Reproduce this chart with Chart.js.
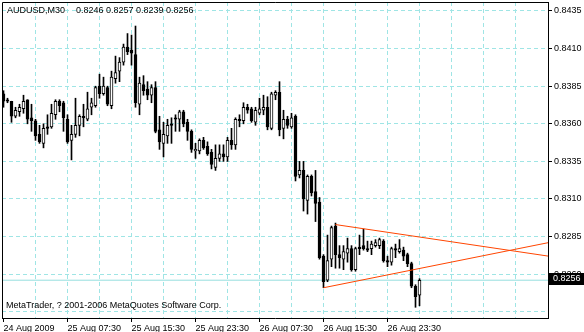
<!DOCTYPE html>
<html>
<head>
<meta charset="utf-8">
<script src="https://cdn.jsdelivr.net/npm/chart.js@4.4.1/dist/chart.umd.min.js"></script>
<style>
  html, body { margin: 0; padding: 0; background: #fff; }
  canvas { display: block; }
</style>
</head>
<body>
<canvas id="chart" width="584" height="332"></canvas>
<script>
// AUDUSD M30 bars, oldest first (bar index = position in the arrays)
const symbol = 'AUDUSD,M30';
const opens = [
	0.8380, 0.8376, 0.8375, 0.8365, 0.8368, 0.8370, 0.8376, 0.8364, 0.8362, 0.8353,
	0.8347, 0.8358, 0.8358, 0.8366, 0.8375, 0.8374, 0.8363, 0.8349, 0.8353, 0.8359,
	0.8365, 0.8363, 0.8371, 0.8372, 0.8385, 0.8380, 0.8384, 0.8372, 0.8390, 0.8395,
	0.8401, 0.8411, 0.8409, 0.8406, 0.8373, 0.8386, 0.8383, 0.8379, 0.8384, 0.8356,
	0.8347, 0.8352, 0.8360, 0.8364, 0.8363, 0.8368, 0.8361, 0.8355, 0.8342, 0.8342,
	0.8349, 0.8345, 0.8341, 0.8331, 0.8337, 0.8340, 0.8338, 0.8349, 0.8346, 0.8363,
	0.8362, 0.8371, 0.8370, 0.8361, 0.8367, 0.8369, 0.8371, 0.8357, 0.8379, 0.8381,
	0.8357, 0.8363, 0.8358, 0.8365, 0.8326, 0.8329, 0.8309, 0.8325, 0.8315, 0.8308,
	0.8272, 0.8256, 0.8270, 0.8292, 0.8273, 0.8270, 0.8274, 0.8277, 0.8263, 0.8278,
	0.8279, 0.8277, 0.8277, 0.8279, 0.8279, 0.8282, 0.8269, 0.8268, 0.8277, 0.8275,
	0.8276, 0.8273, 0.8267, 0.8252, 0.8246
];
const highs = [
	0.8382, 0.8377, 0.8375, 0.8371, 0.8373, 0.8379, 0.8376, 0.8373, 0.8363, 0.8359,
	0.8360, 0.8366, 0.8373, 0.8376, 0.8376, 0.8375, 0.8366, 0.8359, 0.8377, 0.8366,
	0.8373, 0.8381, 0.8377, 0.8385, 0.8393, 0.8391, 0.8385, 0.8395, 0.8405, 0.8404,
	0.8413, 0.8420, 0.8419, 0.8425, 0.8391, 0.8392, 0.8388, 0.8386, 0.8388, 0.8365,
	0.8361, 0.8363, 0.8364, 0.8366, 0.8369, 0.8369, 0.8363, 0.8356, 0.8347, 0.8350,
	0.8351, 0.8348, 0.8343, 0.8346, 0.8346, 0.8346, 0.8351, 0.8357, 0.8364, 0.8366,
	0.8374, 0.8373, 0.8371, 0.8371, 0.8377, 0.8379, 0.8378, 0.8381, 0.8382, 0.8388,
	0.8369, 0.8365, 0.8367, 0.8366, 0.8335, 0.8335, 0.8326, 0.8326, 0.8329, 0.8311,
	0.8273, 0.8286, 0.8292, 0.8294, 0.8279, 0.8279, 0.8284, 0.8279, 0.8278, 0.8286,
	0.8290, 0.8282, 0.8282, 0.8283, 0.8284, 0.8283, 0.8272, 0.8278, 0.8280, 0.8283,
	0.8278, 0.8274, 0.8268, 0.8253, 0.8257
];
const lows = [
	0.8371, 0.8374, 0.8361, 0.8364, 0.8365, 0.8367, 0.8360, 0.8355, 0.8349, 0.8347,
	0.8344, 0.8353, 0.8357, 0.8363, 0.8368, 0.8355, 0.8347, 0.8336, 0.8351, 0.8352,
	0.8358, 0.8362, 0.8366, 0.8371, 0.8377, 0.8379, 0.8372, 0.8370, 0.8387, 0.8388,
	0.8399, 0.8406, 0.8399, 0.8371, 0.8366, 0.8379, 0.8376, 0.8374, 0.8354, 0.8343,
	0.8338, 0.8347, 0.8347, 0.8355, 0.8355, 0.8358, 0.8349, 0.8341, 0.8337, 0.8340,
	0.8343, 0.8339, 0.8330, 0.8329, 0.8335, 0.8335, 0.8335, 0.8343, 0.8343, 0.8358,
	0.8360, 0.8367, 0.8361, 0.8359, 0.8366, 0.8366, 0.8356, 0.8356, 0.8376, 0.8352,
	0.8350, 0.8357, 0.8357, 0.8322, 0.8324, 0.8302, 0.8300, 0.8312, 0.8295, 0.8270,
	0.8251, 0.8255, 0.8265, 0.8264, 0.8264, 0.8263, 0.8268, 0.8262, 0.8262, 0.8273,
	0.8276, 0.8275, 0.8273, 0.8278, 0.8277, 0.8268, 0.8265, 0.8266, 0.8271, 0.8274,
	0.8269, 0.8265, 0.8251, 0.8238, 0.8239
];
const closes = [
	0.8375, 0.8375, 0.8365, 0.8369, 0.8371, 0.8375, 0.8363, 0.8362, 0.8352, 0.8348,
	0.8357, 0.8357, 0.8367, 0.8375, 0.8372, 0.8364, 0.8348, 0.8353, 0.8359, 0.8365,
	0.8364, 0.8370, 0.8374, 0.8384, 0.8380, 0.8385, 0.8373, 0.8391, 0.8394, 0.8401,
	0.8411, 0.8408, 0.8407, 0.8374, 0.8387, 0.8382, 0.8379, 0.8384, 0.8355, 0.8348,
	0.8353, 0.8359, 0.8359, 0.8363, 0.8368, 0.8360, 0.8355, 0.8343, 0.8343, 0.8349,
	0.8344, 0.8340, 0.8333, 0.8337, 0.8340, 0.8338, 0.8349, 0.8346, 0.8363, 0.8362,
	0.8371, 0.8369, 0.8362, 0.8369, 0.8370, 0.8371, 0.8358, 0.8380, 0.8381, 0.8356,
	0.8363, 0.8359, 0.8364, 0.8325, 0.8329, 0.8310, 0.8325, 0.8314, 0.8307, 0.8271,
	0.8255, 0.8269, 0.8291, 0.8273, 0.8271, 0.8275, 0.8277, 0.8263, 0.8277, 0.8277,
	0.8277, 0.8276, 0.8280, 0.8281, 0.8283, 0.8269, 0.8268, 0.8277, 0.8276, 0.8277,
	0.8272, 0.8267, 0.8252, 0.8245, 0.8256
];

const xTickBars = [0, 16, 32, 48, 64, 80, 96];
const xTickLabels = ['24 Aug 2009', '25 Aug 07:30', '25 Aug 15:30', '25 Aug 23:30', '26 Aug 07:30', '26 Aug 15:30', '26 Aug 23:30'];
const gridBars = [8, 16, 24, 32, 40, 48, 56, 64, 72, 80, 88, 96, 104, 112, 120, 128];
const yGrid = [0.8235, 0.8260, 0.8285, 0.8310, 0.8335, 0.8360, 0.8385, 0.8410, 0.8435];
const yLabels = [0.8260, 0.8285, 0.8310, 0.8335, 0.8360, 0.8385, 0.8410, 0.8435];
const bid = 0.8256;

// trend lines (bar index, price)
const upperTrend = [{x: 83, y: 0.8293}, {x: 136.25, y: 0.8272}];
const lowerTrend = [{x: 80, y: 0.8251}, {x: 136.25, y: 0.8281}];

const xMin = -0.375, xMax = 136.125;
const yMin = 0.823088, yMax = 0.844098;

const gridColor = '#9fe5e5';
const fontFamily = '"Liberation Sans", Arial, sans-serif';

const wicks = opens.map((o, i) => ({x: i, y: [lows[i], highs[i]]}));
const bodies = opens.map((o, i) => ({x: i, y: [Math.min(o, closes[i]), Math.max(o, closes[i])]}));

// frame, header texts and the bid price box
const overlay = {
	id: 'overlay',
	afterDraw(chart) {
		const {ctx, chartArea: a, scales} = chart;
		const n = opens.length - 1;
		ctx.save();
		ctx.strokeStyle = '#000';
		ctx.lineWidth = 1;
		ctx.beginPath();
		ctx.moveTo(a.left + 0.5, a.bottom);
		ctx.lineTo(a.left + 0.5, a.top + 0.5);
		ctx.lineTo(a.right, a.top + 0.5);
		ctx.stroke();

		ctx.font = '9px ' + fontFamily;
		ctx.fillStyle = '#000';
		ctx.textBaseline = 'middle';
		ctx.fillText(symbol, 7, 10.5);
		ctx.fillText([opens[n], highs[n], lows[n], closes[n]].map(v => v.toFixed(4)).join(' '), 76, 10.5);
		ctx.fillText('MetaTrader, ? 2001-2006 MetaQuotes Software Corp.', 6, 306);

		const y = scales.y.getPixelForValue(bid);
		ctx.fillRect(a.right + 1, Math.round(y) - 7, 36, 12);
		ctx.fillStyle = '#fff';
		ctx.fillText(bid.toFixed(4), a.right + 5, Math.round(y) - 1);
		ctx.restore();
	}
};

new Chart(document.getElementById('chart'), {
	type: 'bar',
	data: {
		datasets: [{
			type: 'line',
			data: [{x: xMin, y: bid}, {x: xMax, y: bid}],
			borderColor: '#96dede',
			borderWidth: 1,
			pointRadius: 0,
			order: 5
		}, {
			data: wicks,
			backgroundColor: '#000',
			borderWidth: 0,
			grouped: false,
			barPercentage: 1,
			categoryPercentage: 1,
			maxBarThickness: 1,
			order: 3
		}, {
			data: bodies,
			backgroundColor: ctx => closes[ctx.dataIndex] >= opens[ctx.dataIndex] ? '#fff' : '#000',
			borderColor: '#000',
			borderWidth: 1,
			borderSkipped: false,
			grouped: false,
			barPercentage: 1,
			categoryPercentage: 1,
			maxBarThickness: 3,
			order: 2
		}, {
			type: 'line',
			data: upperTrend,
			borderColor: '#ff4500',
			borderWidth: 1,
			pointRadius: 0,
			order: 1
		}, {
			type: 'line',
			data: lowerTrend,
			borderColor: '#ff4500',
			borderWidth: 1,
			pointRadius: 0,
			order: 1
		}]
	},
	options: {
		responsive: false,
		animation: false,
		devicePixelRatio: 1,
		layout: { padding: { left: 2, top: 2, right: 0, bottom: 0 } },
		plugins: {
			legend: { display: false },
			tooltip: { enabled: false }
		},
		font: { family: fontFamily, size: 9 },
		scales: {
			x: {
				type: 'linear',
				position: 'bottom',
				min: xMin,
				max: xMax,
				offset: false,
				grid: { offset: false, drawOnChartArea: false, drawTicks: true, tickLength: 4, color: '#000' },
				border: { display: true, color: '#000' },
				ticks: {
					autoSkip: false,
					maxRotation: 0,
					minRotation: 0,
					align: 'start',
					padding: 1,
					color: '#000',
					font: { family: fontFamily, size: 9 },
					callback: v => xTickLabels[xTickBars.indexOf(v)]
				},
				afterBuildTicks: s => { s.ticks = xTickBars.map(v => ({value: v})); },
				afterFit: s => { s.height = 14; s.paddingLeft = 0; s.paddingRight = 0; }
			},
			xg: {
				type: 'linear',
				position: 'bottom',
				min: xMin,
				max: xMax,
				offset: false,
				grid: { offset: false, color: gridColor, drawTicks: false },
				border: { display: false, dash: [4, 3] },
				ticks: { display: false },
				afterBuildTicks: s => { s.ticks = gridBars.map(v => ({value: v})); },
				afterFit: s => { s.height = 0; s.paddingLeft = 0; s.paddingRight = 0; }
			},
			y: {
				type: 'linear',
				position: 'right',
				min: yMin,
				max: yMax,
				grid: {
					color: gridColor,
					tickColor: ctx => yLabels.includes(ctx.tick.value) ? '#000' : 'rgba(0,0,0,0)',
					tickLength: 4
				},
				border: { display: true, color: '#000', dash: [4, 3] },
				ticks: {
					padding: 2,
					color: '#000',
					font: { family: fontFamily, size: 9 },
					callback: v => yLabels.includes(v) ? v.toFixed(4) : ''
				},
				afterBuildTicks: s => { s.ticks = yGrid.map(v => ({value: v})); },
				afterFit: s => { s.width = 36; s.paddingTop = 0; s.paddingBottom = 0; }
			}
		}
	},
	plugins: [overlay]
});
</script>
</body>
</html>
